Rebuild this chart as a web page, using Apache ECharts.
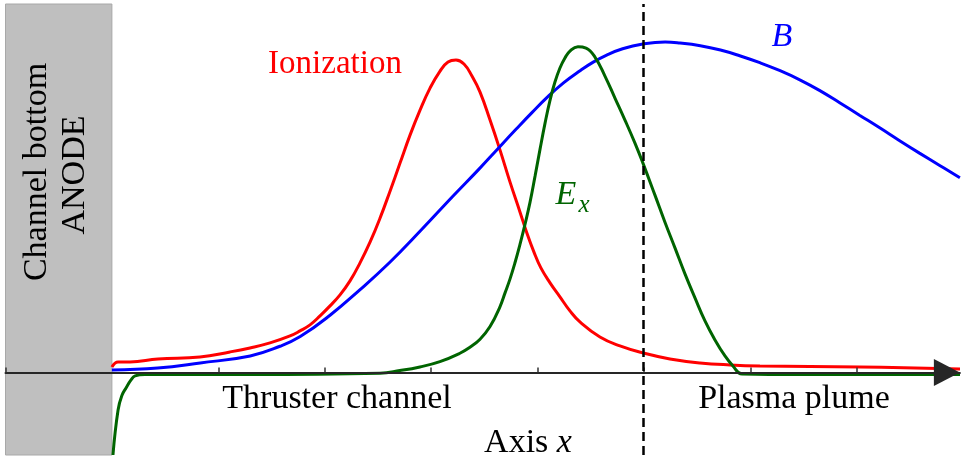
<!DOCTYPE html>
<html>
<head>
<meta charset="utf-8">
<script src="https://cdn.jsdelivr.net/npm/echarts@6/dist/echarts.min.js"></script>
<style>
  html, body { margin: 0; padding: 0; background: #fff; }
  #chart { width: 966px; height: 461px; }
</style>
</head>
<body>
<div id="chart"></div>
<script>
// Profiles along the thruster axis (arbitrary units, x = 0 at the anode)
const ionX = [0, 0.058, 0.170, 0.433, 0.828, 1.110, 1.298, 1.486, 1.674, 1.768, 1.862, 1.956, 2.050, 2.144, 2.238, 2.332, 2.426, 2.520, 2.614, 2.708, 2.802, 2.896, 2.990, 3.084, 3.159, 3.234, 3.309, 3.384, 3.460, 3.554, 3.648, 3.742, 3.836, 3.901, 3.966, 4.032, 4.118, 4.211, 4.305, 4.399, 4.587, 4.775, 4.991, 5.245, 5.527, 5.809, 6.091, 7.031, 7.971];
const ionY = [0.017, 0.032, 0.032, 0.041, 0.047, 0.062, 0.074, 0.089, 0.110, 0.125, 0.143, 0.170, 0.200, 0.233, 0.275, 0.329, 0.391, 0.463, 0.544, 0.628, 0.712, 0.787, 0.853, 0.904, 0.931, 0.937, 0.925, 0.889, 0.841, 0.757, 0.667, 0.571, 0.481, 0.418, 0.362, 0.314, 0.269, 0.227, 0.185, 0.152, 0.107, 0.080, 0.059, 0.041, 0.029, 0.023, 0.020, 0.017, 0.011];

const bX = [0, 0.43, 0.83, 1.30, 1.58, 1.77, 2.05, 2.33, 2.61, 2.90, 3.20, 3.45, 3.63, 3.80, 3.95, 4.10, 4.25, 4.40, 4.52, 4.65, 4.80, 4.99, 5.20, 5.34, 5.53, 5.72, 5.90, 6.09, 6.28, 6.47, 6.65, 6.84, 7.03, 7.22, 7.40, 7.59, 7.78, 7.97];
const bY = [0.008, 0.014, 0.029, 0.050, 0.079, 0.108, 0.172, 0.248, 0.330, 0.425, 0.527, 0.610, 0.672, 0.730, 0.780, 0.828, 0.870, 0.905, 0.930, 0.952, 0.971, 0.985, 0.991, 0.988, 0.980, 0.967, 0.950, 0.929, 0.905, 0.877, 0.846, 0.809, 0.771, 0.733, 0.696, 0.658, 0.621, 0.584];

const exX = [0.010, 0.058, 0.096, 0.133, 0.180, 0.218, 0.311, 1.298, 2.519, 2.707, 2.895, 3.083, 3.271, 3.365, 3.460, 3.554, 3.648, 3.695, 3.742, 3.789, 3.836, 3.883, 3.930, 3.977, 4.024, 4.071, 4.118, 4.164, 4.211, 4.258, 4.305, 4.380, 4.456, 4.540, 4.634, 4.728, 4.822, 4.916, 4.991, 5.104, 5.198, 5.292, 5.386, 5.480, 5.574, 5.668, 5.762, 5.837, 5.922, 6.470, 7.971];
const exY = [-0.247, -0.112, -0.067, -0.046, -0.022, -0.010, -0.006, -0.006, -0.002, 0.006, 0.017, 0.033, 0.058, 0.076, 0.100, 0.138, 0.198, 0.239, 0.281, 0.330, 0.385, 0.445, 0.511, 0.589, 0.670, 0.748, 0.817, 0.871, 0.913, 0.943, 0.964, 0.977, 0.973, 0.946, 0.889, 0.823, 0.757, 0.688, 0.628, 0.532, 0.451, 0.374, 0.296, 0.224, 0.155, 0.098, 0.050, 0.020, -0.004, -0.006, -0.006];

// Regions along the axis
const anodeRange = [-1, 0];
const exitPlane = 4.99;
const tickValues = [-1, 1, 2, 3, 4, 5, 6, 7];
const yRange = [-0.247, 1.105];

const zip = (xs, ys) => xs.map((x, i) => [x, ys[i]]);

const serif = '"Liberation Serif", "DejaVu Serif", serif';
const chart = echarts.init(document.getElementById('chart'), null, { renderer: 'canvas' });

const curve = (name, xs, ys, color) => ({
  name,
  type: 'line',
  data: zip(xs, ys),
  smooth: 0.45,
  showSymbol: false,
  z: 2,
  lineStyle: { color, width: 3 }
});

chart.setOption({
  animation: false,
  backgroundColor: '#ffffff',
  grid: { left: 5.5, right: 6.1, top: 4, bottom: 6, containLabel: false },
  xAxis: {
    type: 'value',
    min: -1,
    max: 7.97,
    interval: 1,
    z: 3,
    splitLine: { show: false },
    axisLabel: { show: false },
    axisLine: {
      show: true,
      onZero: true,
      lineStyle: { color: '#262626', width: 2 },
      symbol: ['none', 'triangle'],
      symbolSize: [27, 26],
      symbolOffset: [0, -13]
    },
    axisTick: {
      show: true,
      inside: true,
      length: 5,
      customValues: tickValues,
      lineStyle: { color: '#333333', width: 1.5 }
    }
  },
  yAxis: {
    type: 'value',
    min: yRange[0],
    max: yRange[1],
    show: false,
    splitLine: { show: false }
  },
  series: [
    {
      name: 'anode',
      type: 'line',
      data: [],
      z: 1,
      silent: true,
      markArea: {
        silent: true,
        itemStyle: { color: '#bfbfbf', borderColor: '#a8a8a8', borderWidth: 1 },
        data: [[{ xAxis: anodeRange[0], yAxis: yRange[0] }, { xAxis: anodeRange[1], yAxis: yRange[1] }]]
      }
    },
    curve('Ionization', ionX, ionY, '#ff0000'),
    curve('B', bX, bY, '#0000ff'),
    curve('Ex', exX, exY, '#006400'),
    {
      name: 'exit',
      type: 'line',
      data: [],
      z: 5,
      silent: true,
      markLine: {
        silent: true,
        symbol: ['none', 'none'],
        label: { show: false },
        lineStyle: { color: '#000000', width: 2.5, type: [9, 5] },
        data: [{ xAxis: exitPlane }]
      }
    }
  ],
  graphic: [
    { type: 'text', x: 37, y: 172, rotation: Math.PI / 2, z: 10,
      style: { text: 'Channel bottom', font: '34px ' + serif, fill: '#000', align: 'center', verticalAlign: 'middle' } },
    { type: 'text', x: 75, y: 175, rotation: Math.PI / 2, z: 10,
      style: { text: 'ANODE', font: '34px ' + serif, fill: '#000', align: 'center', verticalAlign: 'middle' } },
    { type: 'text', x: 335, y: 64, z: 10,
      style: { text: 'Ionization', font: '33px ' + serif, fill: '#ff0000', align: 'center', verticalAlign: 'middle' } },
    { type: 'text', x: 782, y: 37, z: 10,
      style: { text: 'B', font: 'italic 34px ' + serif, fill: '#0000ff', align: 'center', verticalAlign: 'middle' } },
    { type: 'text', x: 566, y: 195, z: 10,
      style: { text: 'E', font: 'italic 34px ' + serif, fill: '#006400', align: 'center', verticalAlign: 'middle' } },
    { type: 'text', x: 584, y: 205, z: 10,
      style: { text: 'x', font: 'italic 25px ' + serif, fill: '#006400', align: 'center', verticalAlign: 'middle' } },
    { type: 'text', x: 337, y: 399, z: 10,
      style: { text: 'Thruster channel', font: '34px ' + serif, fill: '#000', align: 'center', verticalAlign: 'middle' } },
    { type: 'text', x: 794, y: 399, z: 10,
      style: { text: 'Plasma plume', font: '34px ' + serif, fill: '#000', align: 'center', verticalAlign: 'middle' } },
    { type: 'text', x: 528, y: 443, z: 10,
      style: {
        text: '{a|Axis }{b|x}',
        align: 'center', verticalAlign: 'middle',
        rich: {
          a: { font: '34px ' + serif, fill: '#000' },
          b: { font: 'italic 34px ' + serif, fill: '#000' }
        }
      } }
  ]
});
</script>
</body>
</html>
